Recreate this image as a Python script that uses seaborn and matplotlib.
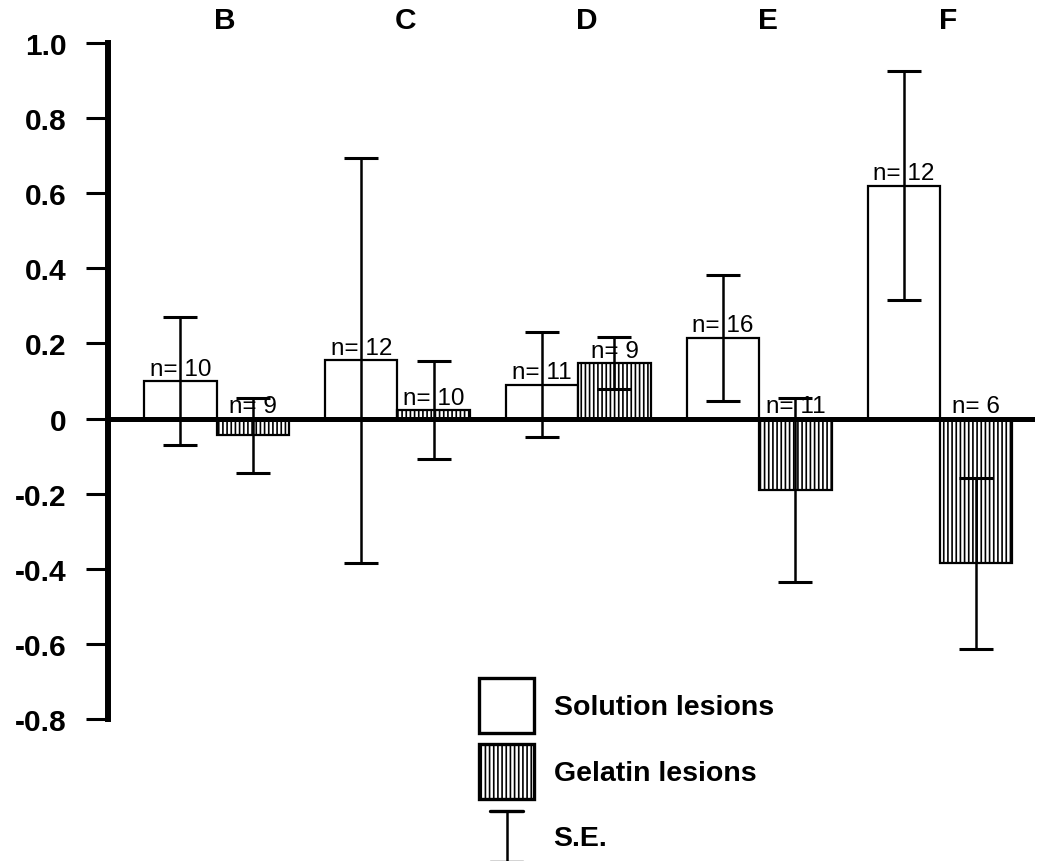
import matplotlib
matplotlib.use("Agg")
import matplotlib.pyplot as plt
import matplotlib.patches as mpatches
from matplotlib.lines import Line2D
from matplotlib.legend_handler import HandlerBase
import numpy as np
import pandas as pd
import seaborn as sns

# ---- data ----
categories = ["B", "C", "D", "E", "F"]
series_names = ["Solution lesions", "Gelatin lesions"]
solution_mean = [0.10, 0.155, 0.09, 0.215, 0.62]
solution_se = [0.17, 0.54, 0.14, 0.168, 0.305]
solution_n = [10, 12, 11, 16, 12]
gelatin_mean = [-0.045, 0.022, 0.148, -0.19, -0.385]
gelatin_se = [0.10, 0.13, 0.07, 0.245, 0.228]
gelatin_n = [9, 10, 9, 11, 6]
ytick_values = [1.0, 0.8, 0.6, 0.4, 0.2, 0.0, -0.2, -0.4, -0.6, -0.8]
ytick_labels = ["1.0", "0.8", "0.6", "0.4", "0.2", "0", "-0.2", "-0.4", "-0.6", "-0.8"]
se_label = "S.E."

sns.set_theme(style="white")
plt.rcParams["font.family"] = ["Liberation Sans", "DejaVu Sans"]
plt.rcParams["hatch.linewidth"] = 1.2
plt.rcParams["hatch.color"] = "black"
for key in ["text.color", "axes.labelcolor", "xtick.color", "ytick.color", "axes.edgecolor"]:
    plt.rcParams[key] = "black"

df = pd.DataFrame({
    "group": categories * 2,
    "series": [series_names[0]] * len(categories) + [series_names[1]] * len(categories),
    "mean": solution_mean + gelatin_mean,
})
se_by_series = {series_names[0]: solution_se, series_names[1]: gelatin_se}
n_by_series = {series_names[0]: solution_n, series_names[1]: gelatin_n}

fig = plt.figure(figsize=(10.46, 8.62), dpi=100)
ax = fig.add_axes([0.1033, 0.1647, 0.8862, 0.7843])

sns.barplot(data=df, x="group", y="mean", hue="series", order=categories,
            hue_order=series_names, palette={s: "white" for s in series_names},
            edgecolor="black", linewidth=1.6, width=0.8, errorbar=None,
            saturation=1, legend=False, ax=ax)

# zero reference line
ax.axhline(0, color="black", lw=3.6, zorder=3)

for container, name in zip(ax.containers, series_names):
    ses = se_by_series[name]
    ns = n_by_series[name]
    for bar, se, n in zip(container, ses, ns):
        if name == series_names[1]:
            bar.set_hatch("||||")
        xc = bar.get_x() + bar.get_width() / 2
        mean = bar.get_y() + bar.get_height() if bar.get_y() >= 0 else bar.get_y()
        ax.errorbar(xc, mean, yerr=se, fmt="none", ecolor="black",
                    elinewidth=1.8, capsize=12, capthick=2.2, zorder=4)
        base = max(mean, 0.0)
        ax.annotate(f"n= {n}", (xc, base), xytext=(0, 1), textcoords="offset points",
                    ha="center", va="bottom", fontsize=17.5, color="black", zorder=5)

ax.set_xlim(-0.6, 4.525)
ax.set_ylim(-0.8, 1.0)
ax.set_xlabel("")
ax.set_ylabel("")

# y axis
ax.set_yticks(ytick_values)
ax.set_yticklabels(ytick_labels, fontsize=21.5, fontweight="bold")
ax.tick_params(axis="y", direction="out", length=16, width=2.2, pad=14,
               color="black", left=True)

# group letters along the top
ax.set_xticks([])
for i, cat in enumerate(categories):
    ax.annotate(cat, xy=(i, 1.0), xycoords=("data", "axes fraction"),
                xytext=(6, 10.5), textcoords="offset points",
                ha="center", va="baseline", fontsize=21.5, fontweight="bold")

for side in ["top", "right", "bottom"]:
    ax.spines[side].set_visible(False)
ax.spines["left"].set_linewidth(4.3)
ax.spines["left"].set_color("black")
ax.grid(False)


class SEHandler(HandlerBase):
    """Legend key drawn as a capped vertical error bar."""
    def create_artists(self, legend, orig_handle, xdescent, ydescent,
                       width, height, fontsize, trans):
        cx = width / 2 - xdescent
        half = width * 0.3
        y0 = -ydescent + height * 0.05
        y1 = height - ydescent - height * 0.03
        artists = [
            Line2D([cx, cx], [y0, y1], color="black", lw=1.8),
            Line2D([cx - half, cx + half], [y1, y1], color="black", lw=2.4),
            Line2D([cx - half, cx + half], [y0, y0], color="black", lw=2.4),
        ]
        for a in artists:
            a.set_transform(trans)
        return artists


se_handle = Line2D([], [], color="black")
handles = [
    mpatches.Patch(facecolor="white", edgecolor="black", linewidth=2.4),
    mpatches.Patch(facecolor="white", edgecolor="black", linewidth=2.4, hatch="||||"),
    se_handle,
]
labels = series_names + [se_label]
fig.legend(handles, labels, loc="upper left",
           bbox_to_anchor=(479 / 1046, 1 - 679 / 862), frameon=False,
           borderpad=0, borderaxespad=0, handlelength=1.94, handleheight=2.61,
           handletextpad=0.68, labelspacing=0.36,
           prop={"size": 20.5, "weight": "bold"},
           handler_map={se_handle: SEHandler()})

fig.savefig("out.png", dpi=100)
